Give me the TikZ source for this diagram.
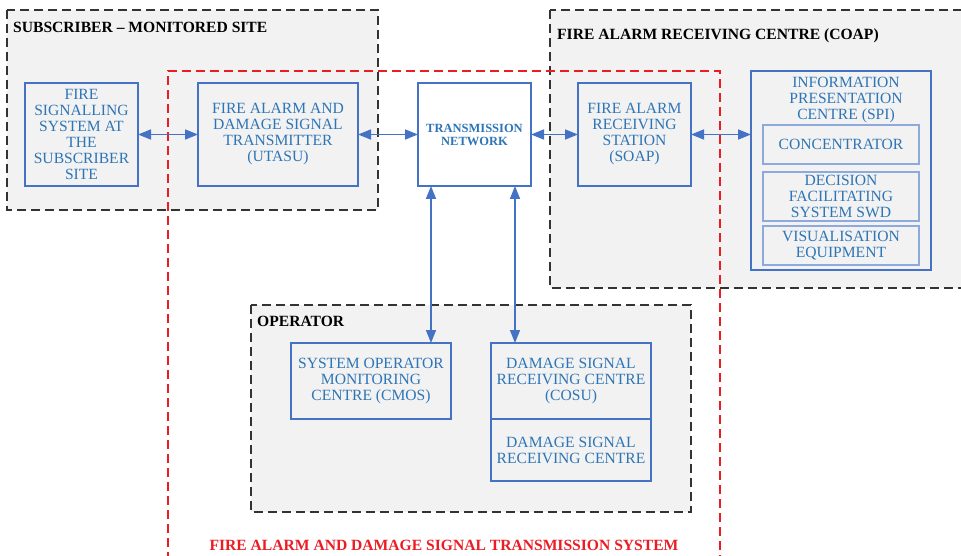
\documentclass[tikz,border=0pt]{standalone}
\usepackage{fontspec}
\setmainfont{Liberation Serif}
\usetikzlibrary{arrows.meta}
\definecolor{txtblue}{RGB}{46,117,182}
\definecolor{boxblue}{RGB}{68,114,196}
\definecolor{lightblue}{RGB}{142,169,219}
\definecolor{bggray}{RGB}{242,242,242}
\definecolor{alarmred}{RGB}{237,28,36}
\begin{document}
\begin{tikzpicture}[x=1pt,y=-1pt,
 zone/.style={draw=black!80, dash pattern=on 9pt off 5pt, line width=1.4pt, fill=bggray},
 sysline/.style={draw=alarmred, dash pattern=on 9pt off 5pt, line width=1.3pt},
 box/.style={draw=boxblue, line width=1.3pt, fill=bggray, inner sep=0pt, outer sep=0pt, anchor=north west, align=center, text=txtblue, font=\fontsize{15.6}{16}\selectfont},
 subbox/.style={box, draw=lightblue, line width=1.6pt},
 head/.style={anchor=west, font=\bfseries\fontsize{15.6}{16}\selectfont, inner sep=0pt},
 arr/.style={draw=boxblue, line width=1.6pt, {Triangle[length=13pt,width=10pt]}-{Triangle[length=13pt,width=10pt]}}]
\useasboundingbox (0,0) rectangle (961,556);
\clip (0,0) rectangle (961,556);
\fill[white] (0,0) rectangle (961,556);
% zones
\draw[zone] (7,10) rectangle (378,210);
\draw[zone] (550,10) rectangle (975,288);
\draw[zone] (251,305) rectangle (691,512);
\draw[sysline] (168,575) -- (168,71) -- (720,71) -- (720,575);
% headers
\node[head] (hsub) at (13,27) {SUBSCRIBER – MONITORED SITE};
\node[head] (hcoap) at (557,36) {FIRE ALARM RECEIVING CENTRE (COAP)};
\node[head] (hop) at (257,321) {OPERATOR};
\node[font=\bfseries\fontsize{15.6}{16}\selectfont, text=alarmred, inner sep=0pt] (hsys) at (444,545) {FIRE ALARM AND DAMAGE SIGNAL TRANSMISSION SYSTEM};
% nodes
\node[box, minimum width=113pt, minimum height=103pt] (fss) at (25,83) {FIRE\\SIGNALLING\\SYSTEM AT\\THE\\SUBSCRIBER\\SITE};
\node[box, minimum width=160pt, minimum height=103pt] (utasu) at (198,83) {FIRE ALARM AND\\DAMAGE SIGNAL\\TRANSMITTER\\(UTASU)};
\node[box, fill=white, minimum width=113pt, minimum height=103pt, font=\bfseries\fontsize{12.5}{13}\selectfont] (tn) at (418,83) {TRANSMISSION\\NETWORK};
\node[box, minimum width=113pt, minimum height=103pt] (soap) at (578,83) {FIRE ALARM\\RECEIVING\\STATION\\(SOAP)};
\node[box, minimum width=180pt, minimum height=199pt] (spi) at (751,71) {};
\node[text=txtblue, align=center, inner sep=0pt, font=\fontsize{15.6}{16}\selectfont] (spil) at (846,100) {INFORMATION\\PRESENTATION\\CENTRE (SPI)};
\node[subbox, minimum width=156pt, minimum height=39pt] (conc) at (763,125) {CONCENTRATOR};
\node[subbox, minimum width=156pt, minimum height=49pt] (swd) at (763,172) {DECISION\\FACILITATING\\SYSTEM SWD};
\node[subbox, minimum width=156pt, minimum height=39pt] (vis) at (763,226) {VISUALISATION\\EQUIPMENT};
\node[box, minimum width=160pt, minimum height=76pt] (cmos) at (291,343) {SYSTEM OPERATOR\\MONITORING\\CENTRE (CMOS)};
\node[box, minimum width=160pt, minimum height=76pt] (cosu) at (491,343) {DAMAGE SIGNAL\\RECEIVING CENTRE\\(COSU)};
\node[box, minimum width=160pt, minimum height=62pt] (dsrc) at (491,419) {DAMAGE SIGNAL\\RECEIVING CENTRE};
% connectors
\draw[arr] (fss.east) -- (utasu.west);
\draw[arr] (utasu.east) -- (tn.west);
\draw[arr] (tn.east) -- (soap.west);
\draw[arr] (soap.east) -- (soap.east -| spi.west);
\draw[arr] ([xshift=13pt]tn.south west) -- ([xshift=140pt]cmos.north west);
\draw[arr] ([xshift=-16pt]tn.south east) -- ([xshift=24pt]cosu.north west);
\end{tikzpicture}
\end{document}
